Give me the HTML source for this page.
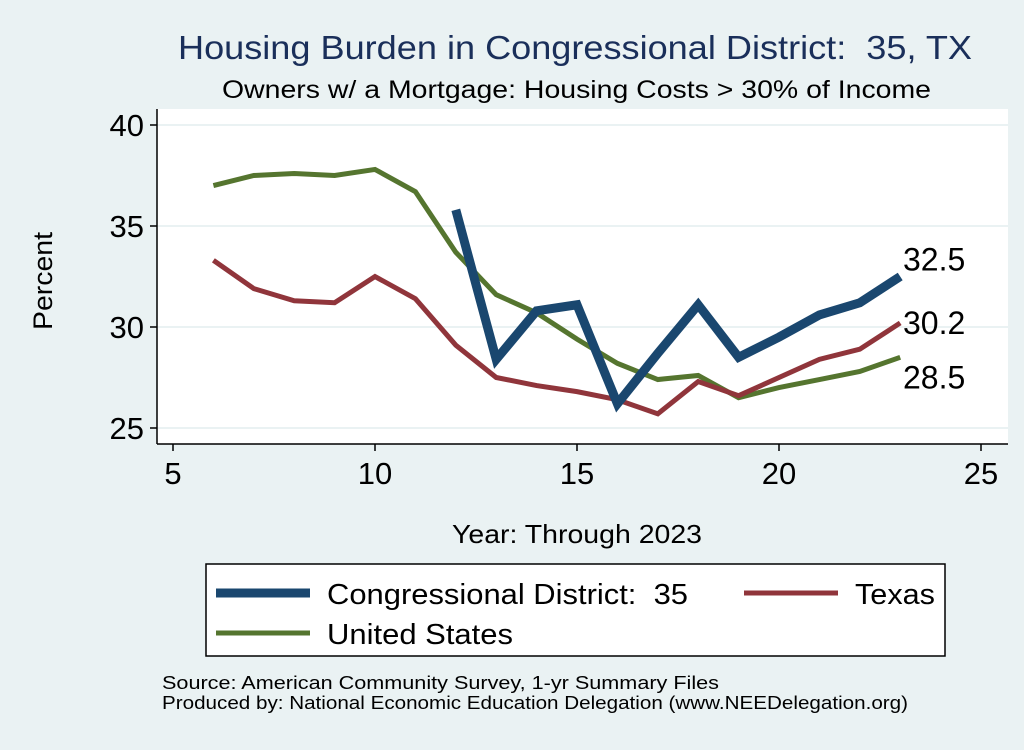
<!DOCTYPE html>
<html><head><meta charset="utf-8"><style>
body{margin:0;width:1024px;height:745px;background:#eaf2f3;font-family:"Liberation Sans",sans-serif;overflow:hidden}
svg text{font-family:"Liberation Sans",sans-serif;white-space:pre}
</style></head><body>
<svg width="1024" height="745" xml:space="preserve">
<text x="178" y="59" font-size="33" fill="#1a2f5a" textLength="794" lengthAdjust="spacingAndGlyphs">Housing Burden in Congressional District:  35, TX</text>
<text x="222" y="98" font-size="25" fill="#000" textLength="709" lengthAdjust="spacingAndGlyphs">Owners w/ a Mortgage: Housing Costs &gt; 30% of Income</text>
<rect x="157" y="109" width="851" height="335" fill="#fff"/>
<g id="grid"></g>
<line x1="157" y1="109" x2="157" y2="444" stroke="#000" stroke-width="1.5"/>
<line x1="157" y1="444" x2="1008" y2="444" stroke="#000" stroke-width="1.5"/>
<g id="ticks"></g>
<g id="series"></g>
<text x="52" y="281" text-anchor="middle" font-size="27" transform="rotate(-90 52 281)" textLength="98" lengthAdjust="spacingAndGlyphs">Percent</text>
<text x="452" y="543" font-size="26" textLength="250" lengthAdjust="spacingAndGlyphs">Year: Through 2023</text>
<rect x="206" y="564" width="739" height="92" fill="#fff" stroke="#000" stroke-width="1.5"/>
<g><line x1="216" y1="593" x2="310" y2="593" stroke="#1a476f" stroke-width="9"/><text x="327" y="604" font-size="29" textLength="361" lengthAdjust="spacingAndGlyphs">Congressional District:  35</text></g>
<g><line x1="744" y1="593" x2="838" y2="593" stroke="#90353b" stroke-width="5"/><text x="855" y="604" font-size="29" textLength="80" lengthAdjust="spacingAndGlyphs">Texas</text></g>
<g><line x1="216" y1="633" x2="310" y2="633" stroke="#55752f" stroke-width="5"/><text x="327" y="644" font-size="29" textLength="186" lengthAdjust="spacingAndGlyphs">United States</text></g>
<text x="162" y="689" font-size="18" textLength="557" lengthAdjust="spacingAndGlyphs">Source: American Community Survey, 1-yr Summary Files</text>
<text x="162" y="709" font-size="18" textLength="746" lengthAdjust="spacingAndGlyphs">Produced by: National Economic Education Delegation (www.NEEDelegation.org)</text>
</svg>
<script>
const years=[6,7,8,9,10,11,12,13,14,15,16,17,18,19,20,21,22,23];
const usVals=[37.0,37.5,37.6,37.5,37.8,36.7,33.7,31.6,30.7,29.4,28.2,27.4,27.6,26.5,27.0,27.4,27.8,28.5];
const txVals=[33.3,31.9,31.3,31.2,32.5,31.4,29.1,27.5,27.1,26.8,26.4,25.7,27.3,26.6,27.5,28.4,28.9,30.2];
const cdYears=[12,13,14,15,16,17,18,19,20,21,22,23];
const cdVals=[35.8,28.4,30.8,31.1,26.2,28.7,31.1,28.5,29.5,30.6,31.2,32.5];
const xTicks=[5,10,15,20,25];
const yTicks=[25,30,35,40];
const X=v=>173+(v-5)*40.4;
const Y=v=>428-(v-25)*20.2;
const NS="http://www.w3.org/2000/svg";
function mk(tag,attrs,parent,text){const e=document.createElementNS(NS,tag);for(const k in attrs)e.setAttribute(k,attrs[k]);if(text!==undefined)e.textContent=text;parent.appendChild(e);return e;}
const grid=document.getElementById('grid'),ticks=document.getElementById('ticks'),ser=document.getElementById('series');
yTicks.forEach(t=>{
 const g=mk('line',{x1:157,x2:1008,y1:Y(t),y2:Y(t),stroke:'#eaf2f3','stroke-width':2},grid);
 
 
 mk('line',{x1:150,x2:157,y1:Y(t),y2:Y(t),stroke:'#000','stroke-width':1.5},ticks);
 const l=mk('text',{x:144,y:Y(t)+11,'text-anchor':'end','font-size':31},ticks,t);
 
 
});
xTicks.forEach(t=>{
 mk('line',{x1:X(t),x2:X(t),y1:444,y2:451,stroke:'#000','stroke-width':1.5},ticks);
 const l=mk('text',{x:X(t),y:484,'text-anchor':'middle','font-size':31},ticks,t);
 
 
});
function line(xs,vs,color,w,name){
 const p=mk('polyline',{points:xs.map((x,i)=>X(x)+','+Y(vs[i])).join(' '),fill:'none',stroke:color,'stroke-width':w,'stroke-linejoin':'miter'},ser);
 
 
}
line(years,usVals,'#55752f',5,'us-line');
line(years,txVals,'#90353b',5,'texas-line');
line(cdYears,cdVals,'#1a476f',9,'district-line');
function lab(v,dy,name){const t=mk('text',{x:903,y:Y(v)+dy,'font-size':32},ser,v.toFixed(1));
 
 }
lab(cdVals[cdVals.length-1],-6,'district-end-label');
lab(txVals[txVals.length-1],11,'texas-end-label');
lab(usVals[usVals.length-1],31,'us-end-label');
</script>
</body></html>
